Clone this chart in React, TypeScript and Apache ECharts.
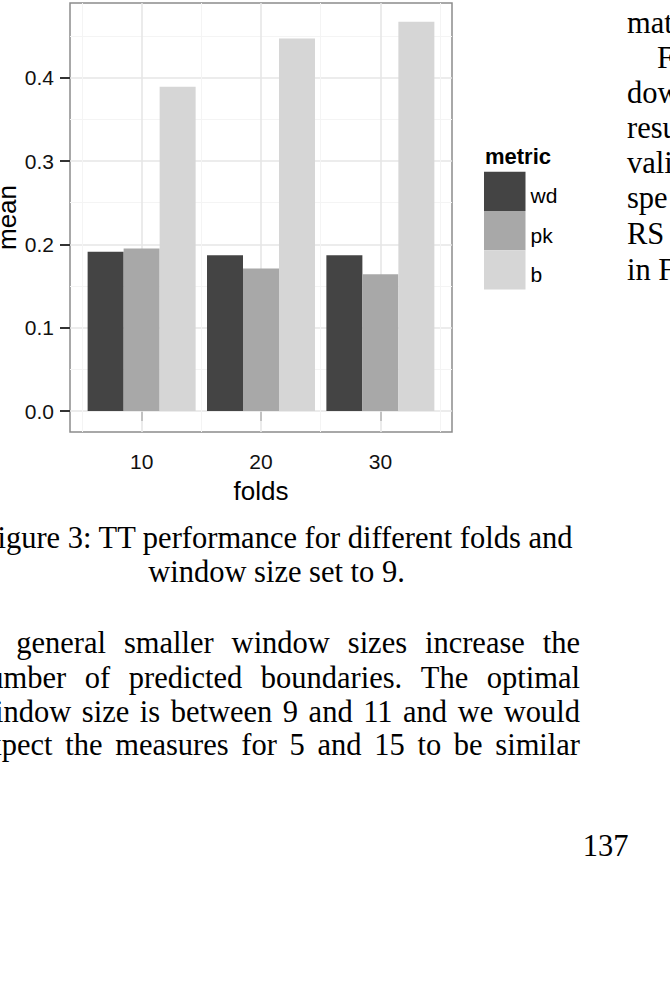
import React, { useEffect, useRef } from 'react';
import * as echarts from 'echarts';

// ---- chart data ----
const FOLDS = ['10', '20', '30'];
const FOLD_POS = [1, 2, 3];
const METRICS = ['wd', 'pk', 'b'];
const WD = [0.191, 0.187, 0.187];
const PK = [0.195, 0.171, 0.164];
const B = [0.389, 0.447, 0.467];
const Y_TICKS = [0, 0.1, 0.2, 0.3, 0.4];
const Y_MINOR = [0.05, 0.15, 0.25, 0.35, 0.45];
const X_MINOR = [0.5, 1.5, 2.5, 3.5];
const COLORS = ['#444444', '#a8a8a8', '#d6d6d6'];

// ---- surrounding page text ----
const CAPTION = ['Figure 3: TT performance for different folds and', 'window size set to 9.'];
const PARAGRAPH = [
  'In general smaller window sizes increase the',
  'number of predicted boundaries. The optimal',
  'window size is between 9 and 11 and we would',
  'expect the measures for 5 and 15 to be similar',
];
const RIGHT_COL = ['mat', 'F', 'dow', 'resu', 'vali', 'spe', 'RS', 'in F'];
const PAGE_NUMBER = '137';

const SANS = 'Liberation Sans';
const SERIF = 'Liberation Serif';
const SERIF_SIZE = 30.5;

export default function App() {
  const ref = useRef<HTMLDivElement>(null);

  useEffect(() => {
    if (!ref.current) return;
    const chart = echarts.init(ref.current, null, { renderer: 'svg' });

    const canvas = document.createElement('canvas');
    const ctx = canvas.getContext('2d')!;
    ctx.font = `${SERIF_SIZE}px "${SERIF}"`;

    const serifStyle = (text: string, align: string) => ({
      text,
      fontSize: SERIF_SIZE,
      fontFamily: SERIF,
      fill: '#000',
      align,
      textAlign: align,
      verticalAlign: 'middle',
      textVerticalAlign: 'middle',
    });

    const graphics: any[] = [];

    // y axis title
    graphics.push({
      type: 'text',
      x: 6.5,
      y: 217.5,
      rotation: Math.PI / 2,
      style: {
        text: 'mean',
        fontSize: 26,
        fontFamily: SANS,
        fill: '#000',
        align: 'center',
        textAlign: 'center',
        verticalAlign: 'middle',
        textVerticalAlign: 'middle',
      },
    });

    // legend title
    graphics.push({
      type: 'text',
      x: 485,
      y: 156.5,
      style: {
        text: 'metric',
        fontSize: 22,
        fontWeight: 'bold',
        fontFamily: SANS,
        fill: '#000',
        align: 'left',
        textAlign: 'left',
        verticalAlign: 'middle',
        textVerticalAlign: 'middle',
      },
    });

    // text column geometry
    const colLeft = -27;
    const colRight = 580;
    const colCenter = (colLeft + colRight) / 2;

    // caption (centered)
    const capY = [538, 571.5];
    CAPTION.forEach((line, i) => {
      graphics.push({ type: 'text', x: colCenter, y: capY[i], style: serifStyle(line, 'center') });
    });

    // justified paragraph
    const paraY = [643, 678, 711.5, 744.5];
    PARAGRAPH.forEach((line, li) => {
      const words = line.split(' ');
      const widths = words.map((w) => ctx.measureText(w).width);
      const total = widths.reduce((a, b) => a + b, 0);
      const gap = (colRight - colLeft - total) / (words.length - 1);
      let x = colLeft;
      words.forEach((w, i) => {
        graphics.push({ type: 'text', x, y: paraY[li], style: serifStyle(w, 'left') });
        x += widths[i] + gap;
      });
    });

    // right column fragments
    const rightY = [23, 57.5, 93, 128, 163, 198, 234, 270];
    RIGHT_COL.forEach((t, i) => {
      graphics.push({
        type: 'text',
        x: i === 1 ? 657 : 627,
        y: rightY[i],
        style: serifStyle(t, 'left'),
      });
    });

    // page number
    graphics.push({ type: 'text', x: 605.5, y: 846, style: serifStyle(PAGE_NUMBER, 'center') });

    const gridLines: any[] = [];
    Y_TICKS.forEach((v) => gridLines.push({ yAxis: v, lineStyle: { color: '#e6e6e6', width: 1.6, type: 'solid' } }));
    Y_MINOR.forEach((v) => gridLines.push({ yAxis: v, lineStyle: { color: '#f4f4f4', width: 1, type: 'solid' } }));
    FOLD_POS.forEach((v) => gridLines.push({ xAxis: v, lineStyle: { color: '#e6e6e6', width: 1.6, type: 'solid' } }));
    X_MINOR.forEach((v) => gridLines.push({ xAxis: v, lineStyle: { color: '#f4f4f4', width: 1, type: 'solid' } }));

    const values = [WD, PK, B];

    const option: any = {
      animation: false,
      backgroundColor: '#ffffff',
      grid: {
        left: 70,
        top: 3,
        width: 382,
        height: 429,
        show: true,
        borderColor: '#8c8c8c',
        borderWidth: 1.5,
        backgroundColor: 'transparent',
        containLabel: false,
        outerBoundsMode: 'none',
      },
      xAxis: {
        type: 'value',
        min: 0.4,
        max: 3.6,
        name: 'folds',
        nameLocation: 'middle',
        nameGap: 46,
        nameMoveOverlap: false,
        nameTextStyle: { fontSize: 26, fontFamily: SANS, color: '#000' },
        axisLine: { show: false },
        splitLine: { show: false },
        axisTick: {
          show: true,
          customValues: FOLD_POS,
          length: 10,
          lineStyle: { color: '#333333', width: 2 },
        },
        axisLabel: {
          customValues: FOLD_POS,
          margin: 18.5,
          fontSize: 21,
          fontFamily: SANS,
          color: '#111111',
          formatter: (v: number) => FOLDS[Math.round(v) - 1] ?? '',
        },
      },
      yAxis: {
        type: 'value',
        min: -0.0252,
        max: 0.4896,
        axisLine: { show: false },
        splitLine: { show: false },
        axisTick: {
          show: true,
          customValues: Y_TICKS,
          length: 10,
          lineStyle: { color: '#333333', width: 2 },
        },
        axisLabel: {
          customValues: Y_TICKS,
          margin: 16,
          fontSize: 21,
          fontFamily: SANS,
          color: '#111111',
          formatter: (v: number) => v.toFixed(1),
        },
      },
      legend: {
        data: METRICS,
        orient: 'vertical',
        left: 484,
        top: 171.7,
        padding: 0,
        itemWidth: 41.5,
        itemHeight: 39.3,
        itemGap: 0,
        icon: 'rect',
        selectedMode: false,
        formatter: '{t|{name}}',
        textStyle: {
          fontSize: 21,
          fontFamily: SANS,
          color: '#000',
          rich: { t: { fontSize: 21, fontFamily: SANS, color: '#000', padding: [9, 0, 0, 0] } },
        },
      },
      series: [
        {
          type: 'line',
          name: 'grid',
          data: [],
          silent: true,
          z: 1,
          markLine: {
            silent: true,
            symbol: 'none',
            z: 1,
            label: { show: false },
            emphasis: { disabled: true },
            data: gridLines,
          },
        },
        ...METRICS.map((m, i) => ({
          type: 'bar',
          name: m,
          data: FOLD_POS.map((p, j) => [p, values[i][j]]),
          barWidth: 36,
          barGap: '0%',
          itemStyle: { color: COLORS[i] },
          silent: true,
          z: 2,
        })),
      ],
      graphic: graphics,
    };

    chart.setOption(option);
    return () => chart.dispose();
  }, []);

  return (
    <div
      ref={ref}
      style={{ position: 'fixed', left: 0, top: 0, width: 670, height: 981, background: '#fff' }}
    />
  );
}
